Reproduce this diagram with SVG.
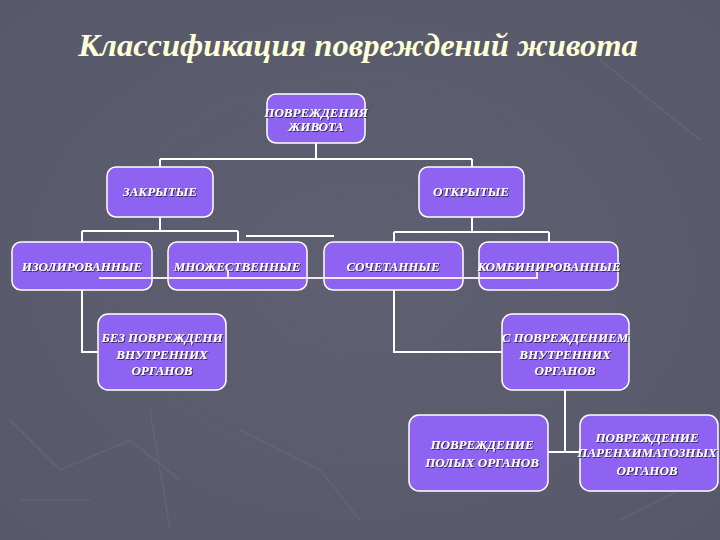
<svg xmlns="http://www.w3.org/2000/svg" width="720" height="540" viewBox="0 0 720 540">
<defs>
<filter id="sh" x="-10%" y="-30%" width="120%" height="160%"><feDropShadow dx="1" dy="1" stdDeviation="0.4" flood-color="#2a2440" flood-opacity="0.9"/></filter>
<radialGradient id="bg" cx="0.5" cy="0.5" r="0.8"><stop offset="0" stop-color="#5e6072"/><stop offset="1" stop-color="#565869"/></radialGradient>
</defs>
<style>
.box{fill:#8f63f2;stroke:#ffffff;stroke-width:1.5}
.t{font-family:"Liberation Serif","DejaVu Serif",serif;font-weight:bold;font-style:italic;font-size:13px;fill:#ffffff;text-anchor:middle;filter:url(#sh)}
.c{fill:none;stroke:#ffffff;stroke-width:2}
.c2{fill:none;stroke:#f4e6f6;stroke-width:2}
.title{font-family:"Liberation Serif","DejaVu Serif",serif;font-weight:bold;font-style:italic;font-size:32.5px;fill:#ffffd8;text-anchor:middle}
.deco{fill:none;stroke:#64667a;stroke-width:1.2}
</style>
<rect width="720" height="540" fill="url(#bg)"/>
<g id="decor">
<path class="deco" d="M10 420 L60 470 L130 440 L180 480 M20 500 L90 500 M150 410 L170 530 M240 430 L320 470 L360 520 M600 60 L700 140 M620 520 L700 480"/>
</g>
<text class="title" x="358" y="56">Классификация повреждений живота</text>
<g id="connectors">
<path class="c" d="M316 143 V159 M160 159 H472 M160 159 V167 M472 159 V167"/>
<path class="c" d="M160 217 V231 M82 231 H238 M82 231 V242 M238 231 V242"/>
<path class="c" d="M472 217 V232 M394 232 H549 M394 232 V242 M549 232 V242"/>
<path class="c" d="M246 236 H334"/>
<path class="c" d="M82 290 V352 H98"/>
<path class="c" d="M394 290 V352 H502"/>
<path class="c" d="M565 390 V452 M548 452 H582"/>
</g>
<g id="n1"><rect class="box" x="267" y="94" width="98" height="49" rx="9"/><text class="t" x="316" y="117">ПОВРЕЖДЕНИЯ</text><text class="t" x="316" y="131">ЖИВОТА</text></g>
<g id="n2"><rect class="box" x="107" y="167" width="106" height="50" rx="9"/><text class="t" x="160" y="196">ЗАКРЫТЫЕ</text></g>
<g id="n3"><rect class="box" x="419" y="167" width="105" height="50" rx="9"/><text class="t" x="471" y="196">ОТКРЫТЫЕ</text></g>
<g id="n4"><rect class="box" x="12" y="242" width="140" height="48" rx="9"/><text class="t" x="82" y="271">ИЗОЛИРОВАННЫЕ</text></g>
<g id="n5"><rect class="box" x="168" y="242" width="139" height="48" rx="9"/><text class="t" x="237" y="271">МНОЖЕСТВЕННЫЕ</text></g>
<g id="n6"><rect class="box" x="324" y="242" width="139" height="48" rx="9"/><text class="t" x="393" y="271">СОЧЕТАННЫЕ</text></g>
<g id="n7"><rect class="box" x="479" y="242" width="139" height="48" rx="9"/><text class="t" x="549" y="271">КОМБИНИРОВАННЫЕ</text></g>
<g id="n8"><rect class="box" x="98" y="314" width="128" height="76" rx="10"/><text class="t" x="162" y="342">БЕЗ ПОВРЕЖДЕНИ</text><text class="t" x="162" y="359">ВНУТРЕННИХ</text><text class="t" x="162" y="375">ОРГАНОВ</text></g>
<g id="n9"><rect class="box" x="502" y="314" width="127" height="76" rx="10"/><text class="t" x="565" y="342">С ПОВРЕЖДЕНИЕМ</text><text class="t" x="565" y="359">ВНУТРЕННИХ</text><text class="t" x="565" y="375">ОРГАНОВ</text></g>
<g id="n10"><rect class="box" x="409" y="415" width="139" height="76" rx="10"/><text class="t" x="482" y="449">ПОВРЕЖДЕНИЕ</text><text class="t" x="482" y="467">ПОЛЫХ ОРГАНОВ</text></g>
<g id="n11"><rect class="box" x="580" y="415" width="138" height="76" rx="10"/><text class="t" x="647" y="442">ПОВРЕЖДЕНИЕ</text><text class="t" x="647" y="457">ПАРЕНХИМАТОЗНЫХ</text><text class="t" x="647" y="475">ОРГАНОВ</text></g>
<g id="overlay-connectors">
<path class="c2" d="M99 278 H537 V272 M228 278 V270"/>
</g>
</svg>
